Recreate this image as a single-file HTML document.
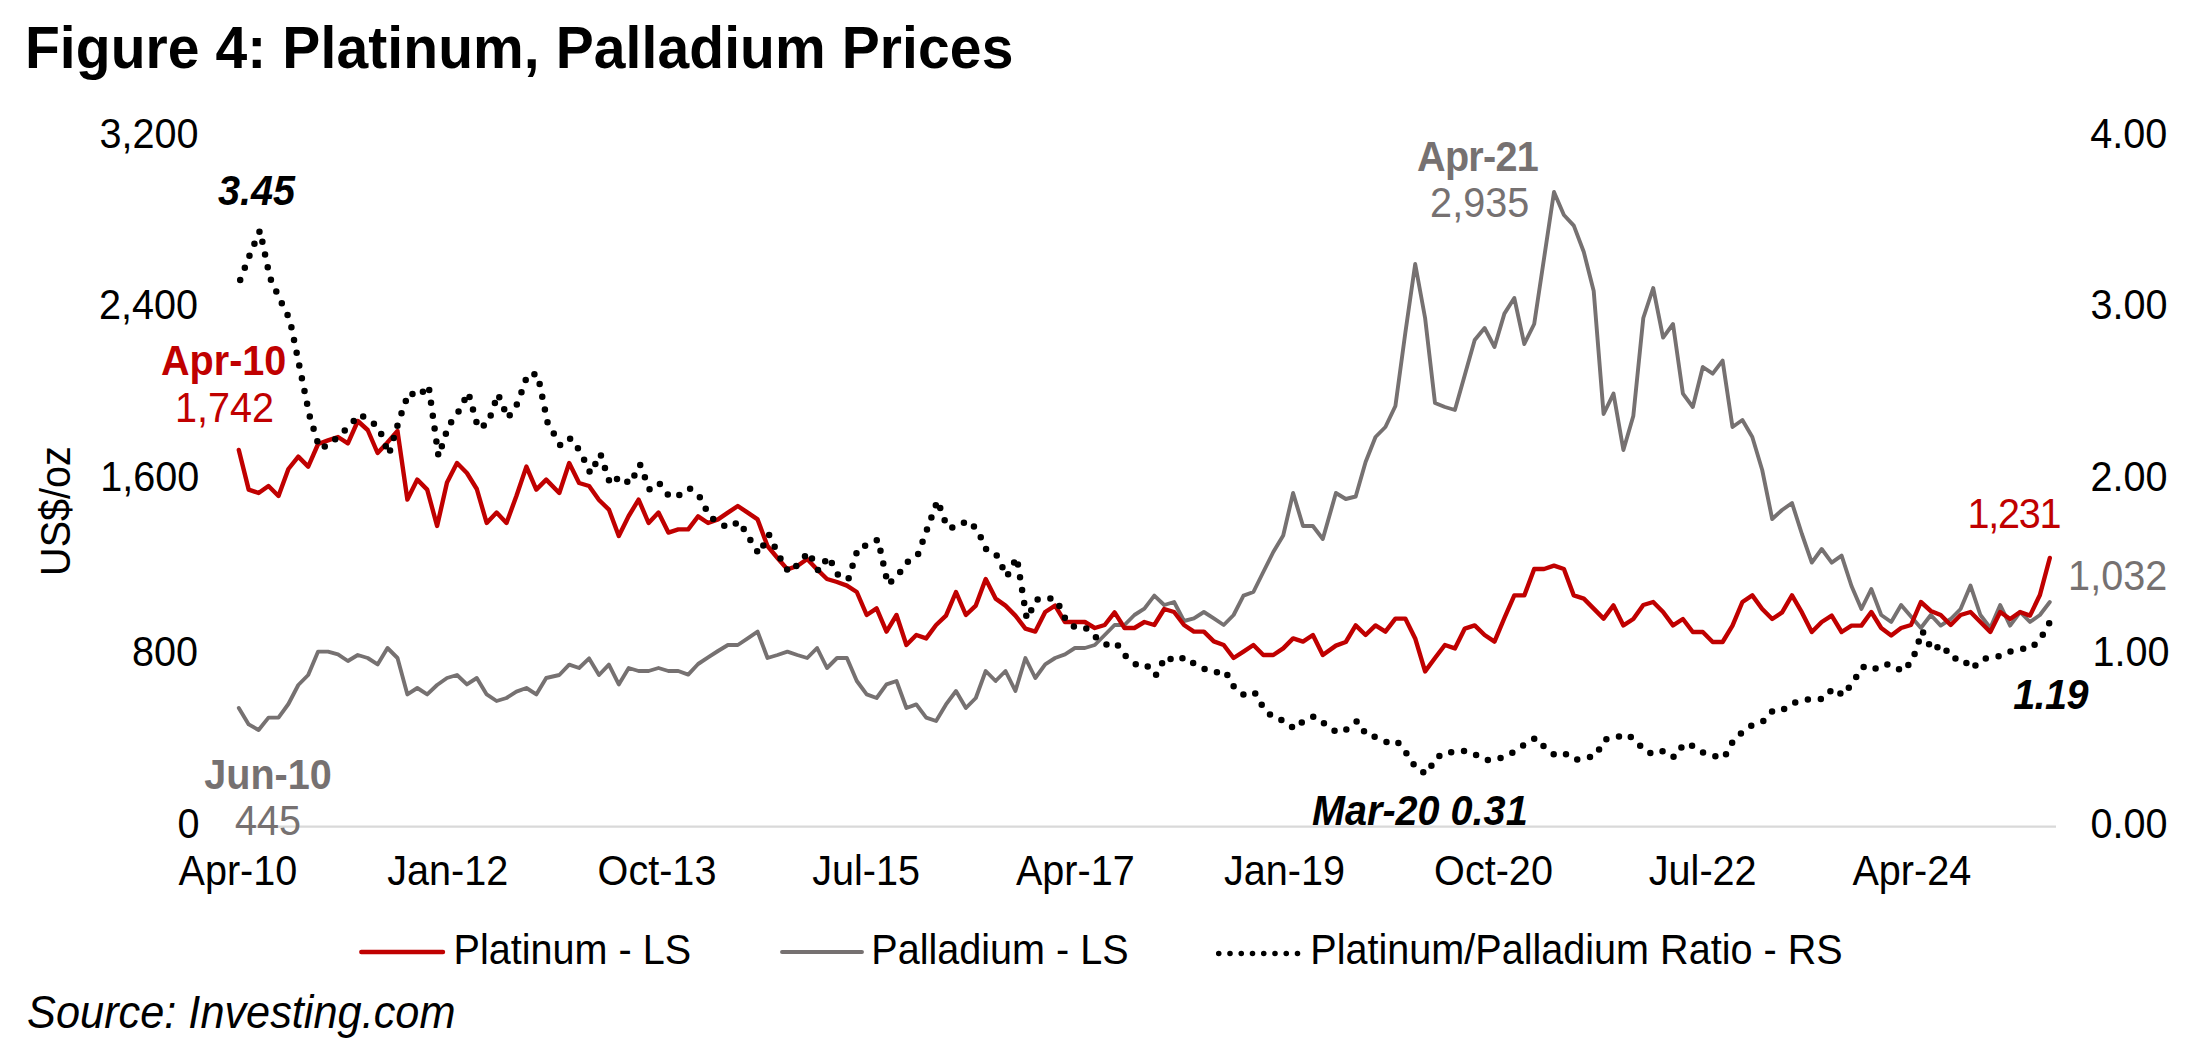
<!DOCTYPE html>
<html><head><meta charset="utf-8"><title>Figure 4: Platinum, Palladium Prices</title>
<style>
html,body{margin:0;padding:0;background:#fff;}
body{width:2200px;height:1055px;overflow:hidden;}
svg{display:block;}
text{font-family:"Liberation Sans", Arial, Helvetica, sans-serif;}
</style></head><body>
<svg width="2200" height="1055" viewBox="0 0 2200 1055">
<rect width="2200" height="1055" fill="#fff"/>
<text transform="translate(24.88,68.4) scale(1,1.048)" font-size="57" font-weight="bold" letter-spacing="0.1">Figure 4: Platinum, Palladium Prices</text>
<text transform="translate(99.5,147.6) scale(1,1.055)" font-size="39.6">3,200</text>
<text transform="translate(99.0,319.3) scale(1,1.055)" font-size="39.6">2,400</text>
<text transform="translate(100.25,490.9) scale(1,1.055)" font-size="39.6">1,600</text>
<text transform="translate(132.0,666.2) scale(1,1.055)" font-size="39.6">800</text>
<text transform="translate(177.62,837.9) scale(1,1.055)" font-size="39.6">0</text>
<text transform="translate(2090.25,147.6) scale(1,1.055)" font-size="39.6">4.00</text>
<text transform="translate(2090.5,319.3) scale(1,1.055)" font-size="39.6">3.00</text>
<text transform="translate(2090.5,490.9) scale(1,1.055)" font-size="39.6">2.00</text>
<text transform="translate(2092.5,666.2) scale(1,1.055)" font-size="39.6">1.00</text>
<text transform="translate(2090.5,837.8) scale(1,1.055)" font-size="39.6">0.00</text>
<text transform="translate(70.2,511) rotate(-90) scale(1,1.055)" font-size="39.6" text-anchor="middle">US$/oz</text>
<line x1="235.5" y1="826.7" x2="2056" y2="826.7" stroke="#d9d9d9" stroke-width="2.2"/>
<text transform="translate(237.9,884.5) scale(1,1.055)" font-size="39.6" text-anchor="middle">Apr-10</text>
<text transform="translate(447.8,884.5) scale(1,1.055)" font-size="39.6" text-anchor="middle">Jan-12</text>
<text transform="translate(657.0,884.5) scale(1,1.055)" font-size="39.6" text-anchor="middle">Oct-13</text>
<text transform="translate(866.1,884.5) scale(1,1.055)" font-size="39.6" text-anchor="middle">Jul-15</text>
<text transform="translate(1075.3,884.5) scale(1,1.055)" font-size="39.6" text-anchor="middle">Apr-17</text>
<text transform="translate(1284.4,884.5) scale(1,1.055)" font-size="39.6" text-anchor="middle">Jan-19</text>
<text transform="translate(1493.5,884.5) scale(1,1.055)" font-size="39.6" text-anchor="middle">Oct-20</text>
<text transform="translate(1702.7,884.5) scale(1,1.055)" font-size="39.6" text-anchor="middle">Jul-22</text>
<text transform="translate(1911.8,884.5) scale(1,1.055)" font-size="39.6" text-anchor="middle">Apr-24</text>
<path d="M238.8,708.0 L248.7,724.4 L258.6,730.0 L268.5,717.6 L278.5,717.6 L288.4,704.0 L298.3,685.0 L308.2,675.0 L318.1,651.6 L328.0,651.6 L338.0,654.4 L347.9,661.0 L357.8,655.0 L367.7,658.0 L377.6,664.4 L387.5,648.0 L397.5,658.0 L407.4,694.4 L417.3,688.0 L427.2,694.4 L437.1,685.0 L447.0,678.0 L457.0,675.0 L466.9,684.4 L476.8,678.0 L486.7,694.4 L496.6,701.0 L506.5,698.0 L516.4,691.6 L526.4,688.0 L536.3,694.4 L546.2,678.0 L559.3,675.0 L569.2,664.6 L579.1,668.0 L589.1,658.4 L599.0,675.0 L608.9,664.6 L618.8,684.4 L628.7,668.0 L638.6,671.0 L648.6,671.0 L658.5,668.0 L668.4,671.0 L678.3,671.0 L688.2,674.6 L698.1,664.0 L708.1,657.4 L718.0,651.0 L727.9,645.0 L737.8,645.0 L747.7,638.4 L757.6,631.6 L767.5,658.0 L777.5,655.0 L787.4,651.6 L797.3,655.0 L807.2,658.0 L817.1,648.0 L827.0,668.0 L837.0,658.0 L846.9,658.0 L856.8,681.0 L866.7,694.4 L876.6,698.0 L886.5,684.4 L896.5,681.0 L906.4,708.0 L916.3,704.4 L926.2,717.6 L936.1,721.0 L946.0,704.4 L956.0,691.0 L965.9,708.0 L975.8,698.0 L985.7,671.0 L995.6,681.0 L1005.5,671.0 L1015.4,691.0 L1025.4,658.0 L1035.3,678.0 L1045.2,664.4 L1055.1,658.0 L1065.0,654.4 L1074.9,648.0 L1084.9,648.0 L1094.8,645.0 L1104.7,635.0 L1114.6,625.0 L1124.5,625.0 L1134.4,615.0 L1144.4,608.6 L1154.3,595.6 L1164.2,605.0 L1174.1,602.0 L1184.0,621.0 L1193.9,618.4 L1203.9,612.0 L1213.8,618.4 L1223.7,625.0 L1233.6,615.0 L1243.5,595.6 L1253.4,592.0 L1263.3,572.0 L1273.3,552.0 L1283.2,535.5 L1293.1,493.0 L1303.0,526.0 L1312.9,526.0 L1322.8,539.0 L1335.9,493.0 L1345.8,499.0 L1355.7,496.5 L1365.6,462.0 L1375.5,437.0 L1385.4,427.0 L1395.4,406.0 L1405.3,333.0 L1415.2,264.0 L1425.1,318.0 L1435.0,403.0 L1444.9,407.0 L1454.9,410.0 L1464.8,375.0 L1474.7,340.0 L1484.6,328.0 L1494.5,347.0 L1504.4,313.6 L1514.3,298.0 L1524.3,344.0 L1534.2,324.0 L1544.1,258.0 L1554.0,192.0 L1563.9,215.0 L1573.8,225.6 L1583.8,252.0 L1593.7,291.0 L1603.6,414.0 L1613.5,393.6 L1623.4,450.0 L1633.3,416.0 L1643.3,318.0 L1653.2,288.0 L1663.1,337.6 L1673.0,324.0 L1682.9,393.6 L1692.8,407.0 L1702.8,367.0 L1712.7,373.6 L1722.6,360.6 L1732.5,427.0 L1742.4,420.0 L1752.3,437.0 L1762.2,470.0 L1772.2,519.0 L1782.1,510.0 L1792.0,503.0 L1801.9,534.0 L1811.8,562.6 L1821.7,549.0 L1831.7,562.6 L1841.6,555.6 L1851.5,586.0 L1861.4,609.0 L1871.3,589.0 L1881.2,615.0 L1891.2,622.0 L1901.1,605.0 L1911.0,616.6 L1920.9,628.0 L1930.8,615.0 L1940.7,625.6 L1950.7,619.0 L1960.6,609.0 L1970.5,585.6 L1980.4,615.0 L1990.3,628.0 L2000.2,605.0 L2010.1,625.6 L2020.1,612.0 L2030.0,622.0 L2039.9,615.0 L2049.8,602.0" fill="none" stroke="#767171" stroke-width="3.9" stroke-linejoin="round" stroke-linecap="round"/>
<path d="M238.8,450.0 L248.7,489.6 L258.6,493.0 L268.5,486.0 L278.5,496.0 L288.4,469.0 L298.3,456.6 L308.2,466.6 L318.1,444.0 L328.0,440.4 L338.0,437.0 L347.9,443.4 L357.8,421.0 L367.7,430.0 L377.6,453.0 L387.5,442.4 L397.5,431.0 L407.4,499.6 L417.3,479.6 L427.2,489.6 L437.1,526.0 L447.0,482.6 L457.0,463.0 L466.9,473.0 L476.8,489.0 L486.7,523.0 L496.6,512.6 L506.5,523.0 L516.4,496.0 L526.4,466.6 L536.3,489.6 L546.2,479.6 L559.3,493.0 L569.2,463.0 L579.1,483.0 L589.1,486.0 L599.0,500.0 L608.9,509.6 L618.8,536.0 L628.7,516.0 L638.6,499.6 L648.6,523.0 L658.5,512.6 L668.4,532.6 L678.3,529.4 L688.2,529.4 L698.1,516.4 L708.1,523.0 L718.0,519.4 L727.9,512.6 L737.8,506.0 L747.7,512.6 L757.6,519.4 L767.5,546.0 L777.5,558.0 L787.4,569.4 L797.3,566.0 L807.2,559.0 L817.1,569.4 L827.0,579.0 L837.0,582.0 L846.9,585.6 L856.8,592.0 L866.7,615.0 L876.6,608.4 L886.5,631.6 L896.5,615.0 L906.4,645.0 L916.3,635.0 L926.2,638.4 L936.1,625.0 L946.0,615.6 L956.0,592.0 L965.9,615.0 L975.8,605.6 L985.7,579.0 L995.6,598.6 L1005.5,605.6 L1015.4,615.6 L1025.4,628.6 L1035.3,631.6 L1045.2,612.0 L1055.1,605.6 L1065.0,622.0 L1074.9,622.0 L1084.9,622.0 L1094.8,628.0 L1104.7,625.0 L1114.6,612.4 L1124.5,628.0 L1134.4,628.0 L1144.4,622.0 L1154.3,625.0 L1164.2,609.0 L1174.1,612.0 L1184.0,625.0 L1193.9,631.6 L1203.9,631.6 L1213.8,641.4 L1223.7,645.0 L1233.6,658.0 L1243.5,651.6 L1253.4,645.0 L1263.3,655.0 L1273.3,655.0 L1283.2,648.4 L1293.1,638.4 L1303.0,641.6 L1312.9,635.0 L1322.8,655.0 L1335.9,645.6 L1345.8,642.0 L1355.7,625.4 L1365.6,635.0 L1375.5,625.4 L1385.4,631.6 L1395.4,618.6 L1405.3,618.6 L1415.2,638.4 L1425.1,671.4 L1435.0,658.0 L1444.9,645.0 L1454.9,648.4 L1464.8,628.6 L1474.7,625.4 L1484.6,635.0 L1494.5,641.6 L1504.4,618.0 L1514.3,595.4 L1524.3,595.4 L1534.2,569.0 L1544.1,569.0 L1554.0,565.6 L1563.9,569.0 L1573.8,595.4 L1583.8,598.6 L1593.7,608.6 L1603.6,618.6 L1613.5,605.4 L1623.4,625.4 L1633.3,619.0 L1643.3,605.0 L1653.2,602.0 L1663.1,612.0 L1673.0,625.4 L1682.9,619.0 L1692.8,632.0 L1702.8,632.0 L1712.7,642.0 L1722.6,642.0 L1732.5,625.6 L1742.4,602.0 L1752.3,595.4 L1762.2,609.0 L1772.2,619.0 L1782.1,612.4 L1792.0,595.4 L1801.9,612.4 L1811.8,632.0 L1821.7,622.0 L1831.7,615.6 L1841.6,632.0 L1851.5,625.6 L1861.4,625.6 L1871.3,612.0 L1881.2,628.0 L1891.2,635.4 L1901.1,628.0 L1911.0,625.0 L1920.9,602.0 L1930.8,611.0 L1940.7,615.0 L1950.7,625.0 L1960.6,615.0 L1970.5,612.0 L1980.4,622.0 L1990.3,632.0 L2000.2,612.0 L2010.1,619.0 L2020.1,612.0 L2030.0,615.6 L2039.9,595.0 L2049.8,558.0" fill="none" stroke="#c00000" stroke-width="4.4" stroke-linejoin="round" stroke-linecap="round"/>
<path d="M240.2,280.0 L250.1,254.0 L260.0,230.4 L269.9,277.5 L279.9,299.5 L289.8,319.5 L299.7,367.6 L309.6,415.8 L319.5,448.4 L329.4,444.8 L339.4,435.2 L349.3,426.3 L359.2,414.5 L369.1,419.6 L379.0,428.1 L388.9,454.5 L398.9,420.7 L408.8,392.5 L418.7,396.5 L428.6,385.5 L438.5,456.5 L448.4,426.1 L458.4,411.7 L468.3,392.5 L478.2,428.5 L488.1,423.0 L498.0,394.0 L507.9,418.1 L517.8,402.9 L527.8,374.0 L537.7,374.5 L547.6,422.6 L560.7,445.9 L570.6,438.3 L580.5,451.8 L590.5,473.5 L600.4,453.9 L610.3,484.5 L620.2,476.5 L630.1,484.0 L640.0,464.5 L650.0,490.5 L659.9,484.1 L669.8,497.0 L679.7,495.0 L689.6,488.3 L699.5,496.6 L709.5,516.2 L719.4,523.9 L729.3,527.5 L739.2,521.2 L749.1,538.0 L759.0,554.1 L768.9,534.5 L778.9,555.8 L788.8,572.3 L798.7,563.9 L808.6,552.0 L818.5,571.0 L828.4,556.5 L838.4,575.6 L848.3,579.3 L858.2,547.8 L868.1,545.0 L878.0,539.5 L887.9,584.5 L897.9,575.2 L907.8,561.7 L917.7,555.3 L927.6,527.9 L937.5,500.5 L947.4,527.9 L957.4,527.3 L967.3,520.5 L977.2,529.3 L987.1,551.3 L997.0,555.7 L1006.9,576.5 L1016.8,557.4 L1026.8,619.0 L1036.7,599.6 L1046.6,597.7 L1056.5,599.8 L1066.4,621.0 L1076.3,628.4 L1086.3,628.4 L1096.2,637.4 L1106.1,644.6 L1116.0,642.8 L1125.9,656.2 L1135.8,664.2 L1145.8,664.2 L1155.7,675.6 L1165.6,656.7 L1175.5,661.3 L1185.4,657.0 L1195.3,664.6 L1205.3,669.4 L1215.2,672.7 L1225.1,670.8 L1235.0,688.8 L1244.9,695.5 L1254.8,692.7 L1264.7,710.0 L1274.7,718.5 L1284.6,720.7 L1294.5,729.0 L1304.4,720.1 L1314.3,716.3 L1324.2,723.4 L1337.3,732.7 L1347.2,729.1 L1357.1,721.1 L1367.0,735.7 L1376.9,737.2 L1386.8,742.1 L1396.8,741.0 L1406.7,753.7 L1416.6,768.7 L1426.5,773.8 L1436.4,757.7 L1446.3,751.7 L1456.3,752.6 L1466.2,750.7 L1476.1,755.0 L1486.0,760.1 L1495.9,759.8 L1505.8,756.2 L1515.7,750.9 L1525.7,743.7 L1535.6,737.9 L1545.5,748.2 L1555.4,755.4 L1565.3,753.7 L1575.2,760.0 L1585.2,757.9 L1595.1,756.1 L1605.0,739.4 L1614.9,738.2 L1624.8,734.1 L1634.7,739.1 L1644.7,751.2 L1654.6,754.4 L1664.5,750.6 L1674.4,757.3 L1684.3,743.6 L1694.2,746.3 L1704.2,753.3 L1714.1,756.1 L1724.0,758.0 L1733.9,739.6 L1743.8,731.0 L1753.7,723.9 L1763.6,721.0 L1773.6,709.8 L1783.5,709.5 L1793.4,703.0 L1803.3,699.9 L1813.2,699.1 L1823.1,699.1 L1833.1,688.3 L1843.0,695.5 L1852.9,682.1 L1862.8,666.8 L1872.7,670.3 L1882.6,664.2 L1892.6,664.9 L1902.5,671.6 L1912.4,660.5 L1922.3,631.0 L1932.2,650.3 L1942.1,644.5 L1952.1,658.6 L1962.0,658.4 L1971.9,669.0 L1981.8,659.3 L1991.7,657.1 L2001.6,656.0 L2011.5,651.0 L2021.5,649.0 L2031.4,648.2 L2041.3,637.3 L2051.2,619.7" fill="none" stroke="#000" stroke-width="6.5" stroke-linejoin="round" stroke-linecap="round" stroke-dasharray="0 13"/>
<text transform="translate(218.0,205) scale(1,1.055)" font-size="39.6" font-weight="bold" font-style="italic">3.45</text>
<text transform="translate(161.0,375.25) scale(1,1.055)" font-size="39.6" font-weight="bold" fill="#c00000">Apr-10</text>
<text transform="translate(175.0,421.5) scale(1,1.055)" font-size="39.6" fill="#c00000">1,742</text>
<text transform="translate(204.25,788.75) scale(1,1.055)" font-size="39.6" font-weight="bold" fill="#767171">Jun-10</text>
<text transform="translate(235.0,835) scale(1,1.055)" font-size="39.6" fill="#767171">445</text>
<text transform="translate(1417.0,170.75) scale(1,1.055)" font-size="39.6" font-weight="bold" letter-spacing="-0.7" fill="#767171">Apr-21</text>
<text transform="translate(1430.12,216.5) scale(1,1.055)" font-size="39.6" fill="#767171">2,935</text>
<text transform="translate(1967.6,527.8) scale(1,1.055)" font-size="39.6" letter-spacing="-1.3" fill="#c00000">1,231</text>
<text transform="translate(2068.12,590) scale(1,1.055)" font-size="39.6" fill="#767171">1,032</text>
<text transform="translate(2013.15,708.75) scale(1,1.055)" font-size="39.6" font-weight="bold" font-style="italic" letter-spacing="-0.6">1.19</text>
<text transform="translate(1312.0,825) scale(1,1.055)" font-size="39.6" font-weight="bold" font-style="italic">Mar-20 0.31</text>
<line x1="361.3" y1="952" x2="443" y2="952" stroke="#c00000" stroke-width="4.4" stroke-linecap="round"/>
<text transform="translate(453.5,963.75) scale(1,1.055)" font-size="39.6">Platinum - LS</text>
<line x1="782" y1="952" x2="862" y2="952" stroke="#767171" stroke-width="3.9" stroke-linecap="round"/>
<text transform="translate(871.25,963.75) scale(1,1.055)" font-size="39.6">Palladium - LS</text>
<line x1="1218.75" y1="953.5" x2="1300" y2="953.5" stroke="#000" stroke-width="5.6" stroke-linecap="round" stroke-dasharray="0 11.25"/>
<text transform="translate(1310.25,963.75) scale(1,1.055)" font-size="39.6">Platinum/Palladium Ratio - RS</text>
<text transform="translate(27.12,1027.5) scale(1,1.055)" font-size="43.3" font-style="italic">Source: Investing.com</text>
</svg>
</body></html>
